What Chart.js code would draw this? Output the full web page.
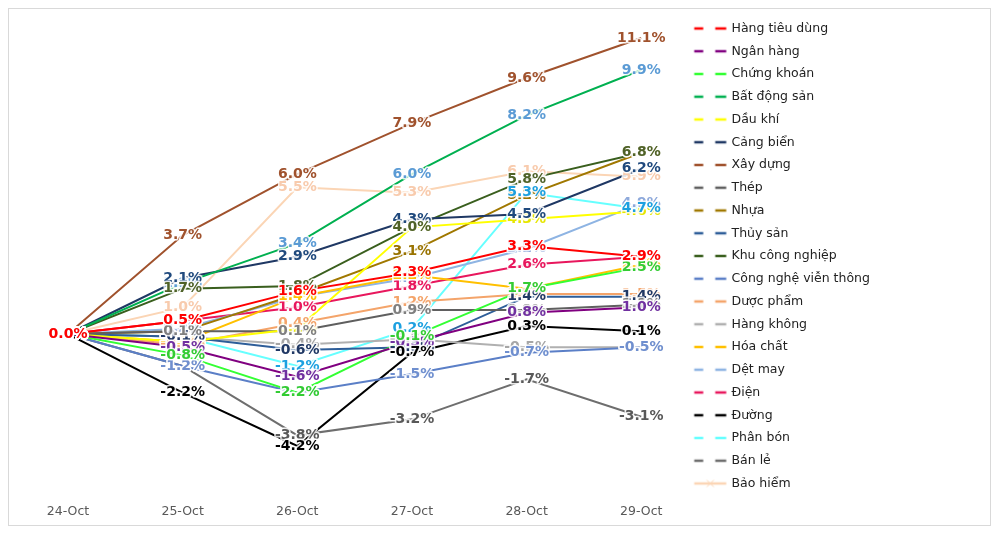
<!DOCTYPE html>
<html>
<head>
<meta charset="utf-8">
<script src="https://cdn.jsdelivr.net/npm/chart.js@4/dist/chart.umd.min.js"></script>
<style>
  html, body { margin: 0; padding: 0; background: #ffffff; }
  #frame { position: absolute; left: 8px; top: 8px; width: 981px; height: 516px; border: 1px solid #d9d9d9; }
  #wrap { position: absolute; left: 0; top: 0; width: 1000px; height: 535px; }
</style>
</head>
<body>
<div id="frame"></div>
<div id="wrap"><canvas id="c" width="1000" height="535"></canvas></div>
<script>
// ---- data ----
const categories = ['24-Oct', '25-Oct', '26-Oct', '27-Oct', '28-Oct', '29-Oct'];
const seriesNames = ['Hàng tiêu dùng', 'Ngân hàng', 'Chứng khoán', 'Bất động sản', 'Dầu khí', 'Cảng biển',
  'Xây dựng', 'Thép', 'Nhựa', 'Thủy sản', 'Khu công nghiệp', 'Công nghệ viễn thông', 'Dược phẩm',
  'Hàng không', 'Hóa chất', 'Dệt may', 'Điện', 'Đường', 'Phân bón', 'Bán lẻ', 'Bảo hiểm'];

const hangTieuDung = [0, 0.5, 1.6, 2.3, 3.3, 2.9];
const nganHang     = [0, -0.5, -1.6, -0.3, 0.8, 1.0];
const chungKhoan   = [0, -0.8, -2.2, -0.1, 1.7, 2.5];
const batDongSan   = [0, 1.9, 3.4, 6.0, 8.2, 9.9];
const dauKhi       = [0, -0.3, 0.2, 4.0, 4.3, 4.6];
const cangBien     = [0, 2.1, 2.9, 4.3, 4.5, 6.2];
const xayDung      = [0, 3.7, 6.0, 7.9, 9.6, 11.1];
const thep         = [0, 0.1, 0.1, 0.9, 0.9, 1.1];
const nhua         = [0, 0.1, 1.5, 3.1, 5.2, 6.8];
const thuySan      = [0, -0.1, -0.6, -0.5, 1.4, 1.4];
const khuCongNghiep= [0, 1.7, 1.8, 4.0, 5.8, 6.8];
const congNghe     = [0, -1.2, -2.2, -1.5, -0.7, -0.5];
const duocPham     = [0, -0.4, 0.4, 1.2, 1.5, 1.5];
const hangKhong    = [0, -0.1, -0.4, -0.2, -0.5, -0.5];
const hoaChat      = [0, -0.3, 1.4, 2.2, 1.7, 2.6];
const detMay       = [0, 0.2, 1.4, 2.1, 3.2, 4.9];
const dien         = [0, 0.5, 1.0, 1.8, 2.6, 2.9];
const duong        = [0, -2.2, -4.2, -0.7, 0.3, 0.1];
const phanBon      = [0, -0.1, -1.2, 0.2, 5.3, 4.7];
const banLe        = [0, -1.2, -3.8, -3.2, -1.7, -3.1];
const baoHiem      = [0, 1.0, 5.5, 5.3, 6.1, 5.9];

const seriesValues = [hangTieuDung, nganHang, chungKhoan, batDongSan, dauKhi, cangBien, xayDung, thep,
  nhua, thuySan, khuCongNghiep, congNghe, duocPham, hangKhong, hoaChat, detMay, dien, duong, phanBon,
  banLe, baoHiem];

const lineColors = ['#ff0000', '#800080', '#33ff33', '#00b050', '#ffff00', '#1f3864', '#a0522d', '#5f5f5f',
  '#a07800', '#2e5e99', '#3a5f1e', '#5b7fc7', '#f4a46a', '#b0b0b0', '#ffc000', '#8eb4e3', '#e8175d',
  '#000000', '#66ffff', '#6e6e6e', '#fbd5b5'];
const labelColors = ['#ff0000', '#7030a0', '#33cc33', '#5b9bd5', '#e6e600', '#1f497d', '#a0522d', '#7f7f7f',
  '#997300', '#203864', '#4f6228', '#6f8fcf', '#f4a46a', '#a6a6a6', '#ffc000', '#8ea9db', '#e8175d',
  '#000000', '#1ca0e0', '#595959', '#f8cbad'];
// order in which value labels are painted (last = on top)
const labelOrder = [3, 20, 4, 19, 8, 15, 18, 16, 14, 13, 12, 11, 9, 7, 1, 6, 5, 10, 2, 17, 0];

// ---- layout constants ----
const legendFontSize = 12.5;
const legendPad = 10.25;
const legendBoxW = 31;
const legendItemX = 694;
const plotRight = 641;

const mctx = document.createElement('canvas').getContext('2d');
mctx.font = legendFontSize + 'px "DejaVu Sans"';
let maxTextW = 0;
seriesNames.forEach(n => { maxTextW = Math.max(maxTextW, mctx.measureText(n).width); });
const legendLeft = legendItemX - legendPad;
const legendWidth = 2 * legendPad + legendBoxW + legendFontSize / 2 + maxTextW;
const padRight = 1000 - legendLeft - legendWidth;

function legendIcon(color, cross) {
  const c = document.createElement('canvas');
  c.width = 36; c.height = 10;
  const g = c.getContext('2d');
  g.strokeStyle = color;
  g.lineWidth = 2.5;
  g.beginPath();
  if (cross) {
    g.moveTo(2.5, 5); g.lineTo(34.5, 5);
    g.stroke();
    g.lineWidth = 1;
    g.beginPath();
    g.moveTo(15, 1.5); g.lineTo(22, 8.5);
    g.moveTo(22, 1.5); g.lineTo(15, 8.5);
  } else {
    g.moveTo(2.5, 5); g.lineTo(11.5, 5);
    g.moveTo(23.5, 5); g.lineTo(34.5, 5);
  }
  g.stroke();
  return c;
}
const icons = seriesNames.map((n, i) => legendIcon(lineColors[i], i === seriesNames.length - 1));

const datasets = seriesNames.map((name, i) => ({
  label: name,
  data: seriesValues[i],
  borderColor: lineColors[i],
  backgroundColor: lineColors[i],
  borderWidth: 2,
  pointRadius: 0,
  pointHoverRadius: 0,
  tension: 0,
  fill: false
}));

const labelPlugin = {
  id: 'valueLabels',
  afterDatasetsDraw(chart) {
    const ctx = chart.ctx;
    ctx.save();
    ctx.font = 'bold 14px "DejaVu Sans"';
    ctx.textAlign = 'center';
    ctx.textBaseline = 'middle';
    ctx.lineJoin = 'round';
    labelOrder.forEach(i => {
      const ds = chart.data.datasets[i];
      const meta = chart.getDatasetMeta(i);
      meta.data.forEach((pt, j) => {
        const t = ds.data[j].toFixed(1) + '%';
        ctx.strokeStyle = 'rgba(255,255,255,0.85)';
        ctx.lineWidth = 3;
        ctx.strokeText(t, pt.x, pt.y);
        ctx.fillStyle = labelColors[i];
        ctx.fillText(t, pt.x, pt.y);
      });
    });
    ctx.restore();
  }
};

new Chart(document.getElementById('c'), {
  type: 'line',
  data: { labels: categories, datasets },
  plugins: [labelPlugin],
  options: {
    responsive: false,
    animation: false,
    events: [],
    layout: { padding: { left: 68, top: 12, right: padRight, bottom: 6 } },
    plugins: {
      tooltip: { enabled: false },
      title: { display: false },
      legend: {
        display: true,
        position: 'right',
        align: 'start',
        maxWidth: 400,
        labels: {
          usePointStyle: true,
          pointStyleWidth: legendBoxW,
          padding: legendPad,
          color: '#222222',
          font: { family: 'DejaVu Sans', size: legendFontSize },
          generateLabels: (chart) => chart.data.datasets.map((ds, i) => ({
            text: ds.label,
            pointStyle: icons[i],
            fillStyle: lineColors[i],
            strokeStyle: lineColors[i],
            lineWidth: 0,
            hidden: false,
            datasetIndex: i,
            fontColor: '#222222'
          }))
        }
      }
    },
    scales: {
      x: {
        type: 'category',
        offset: false,
        grid: { display: false, drawTicks: false },
        border: { display: false },
        ticks: { color: '#595959', padding: 10, font: { family: 'DejaVu Sans', size: 12.5 }, maxRotation: 0 }
      },
      y: {
        display: false,
        min: -6,
        max: 12.077
      },
      y2: {
        type: 'linear',
        position: 'right',
        display: true,
        grid: { display: false, drawTicks: false },
        border: { display: false },
        ticks: { display: false },
        afterFit: (s) => { s.width = legendLeft - plotRight; }
      }
    }
  }
});
</script>
</body>
</html>
